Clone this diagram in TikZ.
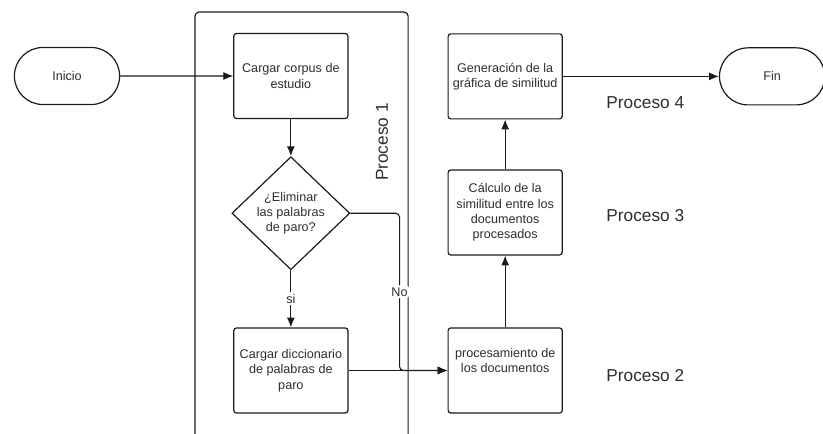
\documentclass[tikz,border=0pt]{standalone}
\usepackage{fontspec}
\setmainfont{Liberation Sans}
\usetikzlibrary{arrows.meta,calc,positioning,shapes.geometric,shapes.misc}
\definecolor{InkGray}{HTML}{2E2E2E}
\definecolor{LineBlack}{HTML}{1A1A1A}

\begin{document}
\begin{tikzpicture}[
    box/.style={draw=LineBlack,line width=0.9pt,rounded corners=2pt,fill=white,
                minimum width=3.02cm,minimum height=2.25cm,align=center,
                text=InkGray,font=\fontsize{9.5}{11.5}\selectfont},
    term/.style={draw=LineBlack,line width=0.9pt,rounded rectangle,
                 minimum width=3.02cm,minimum height=1.51cm,
                 text=InkGray,font=\fontsize{9.5}{11.5}\selectfont},
    decision/.style={draw=LineBlack,line width=0.9pt,diamond,inner sep=0pt,
                     minimum width=3.12cm,minimum height=2.99cm,align=center,
                     text=InkGray,font=\fontsize{9.5}{11.5}\selectfont},
    proclbl/.style={text=InkGray,font=\fontsize{13}{15}\selectfont},
    tag/.style={fill=white,inner sep=1.5pt,text=InkGray,
                font=\fontsize{9.5}{11.5}\selectfont},
    arr/.style={-{Latex[length=2.6mm,width=2.1mm]},line width=0.8pt,LineBlack}]
    \useasboundingbox (0,0) rectangle (21.78,-11.48);
    % lane of the first process
    \draw[line width=0.9pt,LineBlack,rounded corners=3pt]
        (5.16,-11.6) |- (10.80,-0.32) -- (10.80,-11.6);
    \node[term] (inicio) at (1.773,-2.011) {Inicio};
    \node[box,right=2.99cm of inicio] (corpus) {Cargar corpus de\\estudio};
    \node[decision,below=0.98cm of corpus] (elim) {¿Eliminar\\las palabras\\de paro?};
    \node[box,below=1.51cm of elim] (dicc) {Cargar diccionario\\de palabras de\\paro};
    \node[box,right=2.62cm of dicc] (proc) {procesamiento de\\los documentos\\[0.12cm]};
    \node[box,above=1.9cm of proc] (calc) {Cálculo de la\\similitud entre los\\documentos\\procesados};
    \node[box,above=1.32cm of calc] (gen) {Generación de la\\gráfica de similitud};
    \node[term,right=4.13cm of gen] (fin) {Fin};
    \node[proclbl,rotate=90] (p1) at ($(corpus)+(2.41,-1.75)$) {Proceso 1};
    \node[proclbl,right=1.03cm of proc,yshift=-0.13cm] (p2) {Proceso 2};
    \node[proclbl,right=1.03cm of calc,yshift=-0.07cm] (p3) {Proceso 3};
    \node[proclbl,right=1.03cm of gen,yshift=-0.69cm] (p4) {Proceso 4};
    \draw[arr] (inicio)--(corpus);
    \draw[arr] (corpus)--(elim);
    \draw[arr] (elim)--node[tag]{si}(dicc);
    \draw[arr,rounded corners=3pt] (elim.east) -| node[tag,pos=0.75]{No}
        ($(proc.west)+(-1.27cm,0)$) -- (proc.west);
    \draw[arr] (dicc)--(proc);
    \draw[arr] (proc)--(calc);
    \draw[arr] (calc)--(gen);
    \draw[arr] (gen)--(fin);
  \end{tikzpicture}
\end{document}
